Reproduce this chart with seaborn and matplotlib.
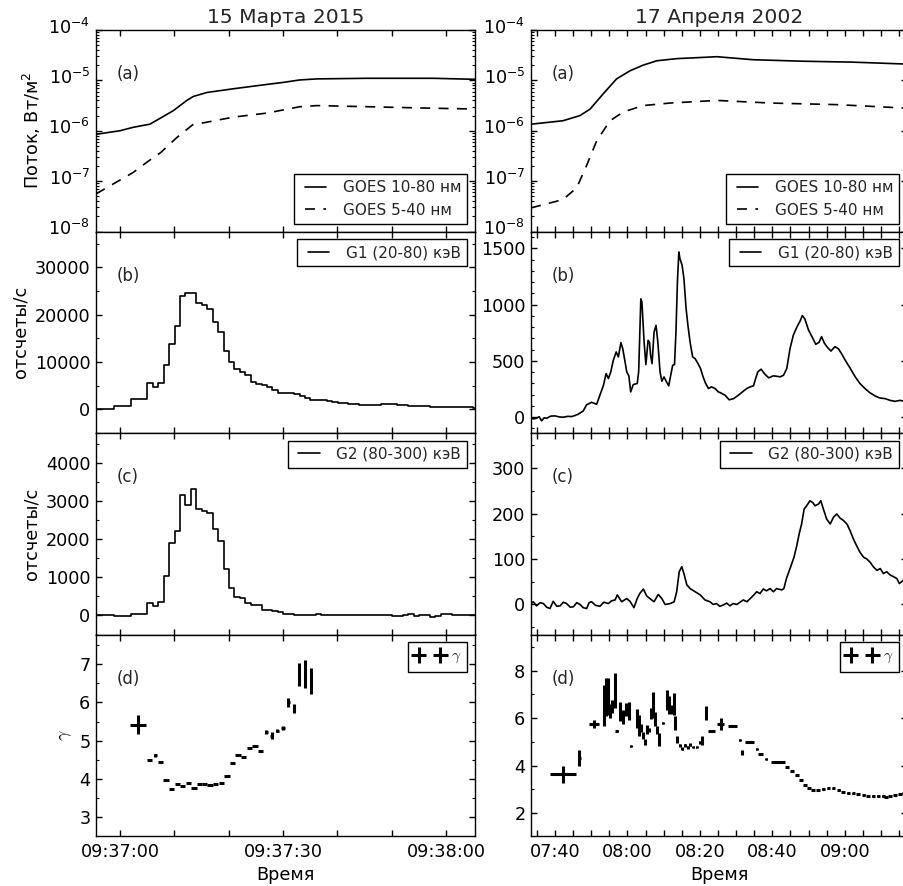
import matplotlib
matplotlib.use("Agg")
import matplotlib.pyplot as plt
import matplotlib.transforms as mtransforms
import seaborn as sns
import pandas as pd
from matplotlib.ticker import MultipleLocator, FuncFormatter, LogLocator

# ------------------------------------------------------------------ data
titles = ["15 Марта 2015", "17 Апреля 2002"]
goes_labels = ["GOES 10-80 нм", "GOES 5-40 нм"]
g1_label = "G1 (20-80) кэВ"
g2_label = "G2 (80-300) кэВ"
panel_tags = ["(a)", "(b)", "(c)", "(d)"]

# left column: seconds after 09:37:00
L_xticks = [0, 30, 60]
L_xticklabels = ["09:37:00", "09:37:30", "09:38:00"]
# right column: minutes after 07:40
R_xticks = [0, 20, 40, 60, 80]
R_xticklabels = ["07:40", "08:00", "08:20", "08:40", "09:00"]

L_goes_long_t = [-4.4, -2, 0, 2.4, 5.5, 9.8, 12.3, 13.5, 16, 20.8, 27, 30, 33.1, 36.3, 45.5, 57.6, 65.3]
L_goes_long = [8.5e-7, 9.3e-7, 1.0e-6, 1.17e-6, 1.35e-6, 2.5e-6, 4.0e-6, 4.8e-6, 5.75e-6, 6.8e-6,
               8.3e-6, 9.1e-6, 1.02e-5, 1.07e-5, 1.10e-5, 1.10e-5, 1.05e-5]
L_goes_short_t = [-4.4, 0, 2.4, 5, 7.5, 10.5, 13.4, 16, 20.8, 27, 33.1, 36.3, 45.5, 57.6, 65.3]
L_goes_short = [5.6e-8, 1.05e-7, 1.48e-7, 2.4e-7, 3.7e-7, 7.4e-7, 1.32e-6, 1.48e-6, 1.86e-6,
                2.24e-6, 3.0e-6, 3.16e-6, 3.0e-6, 2.8e-6, 2.7e-6]

R_goes_long_t = [-6.6, 2.2, 6.9, 9.7, 13.3, 17, 20.7, 24.3, 28.1, 33.6, 44.7, 54.7, 68.5, 82.3, 97.5]
R_goes_long = [1.35e-6, 1.58e-6, 2.0e-6, 2.7e-6, 5.4e-6, 1.07e-5, 1.55e-5, 2.0e-5, 2.45e-5, 2.7e-5,
               2.95e-5, 2.57e-5, 2.4e-5, 2.3e-5, 2.1e-5]
R_goes_short_t = [-6.6, 2.2, 6, 8.8, 11.5, 15.2, 18.8, 24.3, 31.8, 44.7, 59.4, 77.8, 97.5]
R_goes_short = [2.95e-8, 4.3e-8, 7.4e-8, 2.1e-7, 6.3e-7, 1.58e-6, 2.35e-6, 3.16e-6, 3.55e-6,
                4.0e-6, 3.55e-6, 3.3e-6, 2.8e-6]

# left column count-rate bins (start times, s)
L_bin_start = [-7.2, -1.1, 1.95] + [5.05 + k for k in range(61)]
L_g1 = [150, 630, 2100,
        5500, 4800, 5500, 9400, 13900, 17700, 24000, 24600, 24700, 22500,
        22000, 21200, 18500, 16300, 12300, 10100, 8500, 8000, 7300, 5800,
        5350, 5100, 4650, 4100, 3500, 3400, 3450, 3300, 2800, 2400,
        2050, 1900, 1900, 1830, 1600, 1400, 1270, 1200, 1130, 1000,
        900, 900, 900, 1130, 1130, 1050, 900, 850, 800, 700,
        650, 630, 600, 550, 500, 480, 450, 420, 400, 400, 380]
L_g2 = [5, -5, 45,
        340, 260, 360, 1030, 1900, 2210, 3175, 2910, 3330, 2790,
        2740, 2680, 2260, 1960, 1220, 710, 480, 465, 340, 265,
        270, 150, 140, 115, 80, 45, 50, 20, 20, 20,
        20, 45, 5, 0, 10, 0, 20, 20, 20, 0,
        5, 10, 10, 0, 0, -5, -5, 0, 45, -15,
        0, 0, -45, -10, 35, 30, 20, 20, 15, 10, 0]

R_g1_t = [-6.9, -6.0, -5.1, -4.4, -3.7, -3.0, -2.3, -1.2, 0, 1.1, 2.3, 3.5, 4.6, 5.5, 6.4, 7.8, 8.7,
          10.1, 11.5, 12.4, 13.4, 14.1, 14.75, 15.4, 16.1, 16.9, 17.5, 18.2, 18.7, 19.3, 19.8,
          20.4, 20.9, 21.6, 22.7, 23.1, 23.7, 24.0, 24.6, 25.1, 25.7, 26.1, 26.4, 26.8, 27.35,
          27.9, 28.4, 29.0, 29.5, 30.1, 30.8, 31.4, 31.95, 32.5, 33.0, 33.4, 33.8, 34.2, 34.5,
          35.1, 35.6, 36.2, 36.7, 37.3, 38.0, 38.7, 39.5, 40.2, 40.9, 41.6, 42.4, 43.2, 44.2,
          45.1, 45.6, 46.98, 48.1, 49.3, 50.6, 52.0, 52.95, 53.9, 54.8, 55.4, 56.0, 56.9, 57.8,
          59.0, 60.3, 62.2, 63.1, 64.0, 64.9, 65.8, 66.8, 67.7, 68.3, 69.0, 70.0, 71.1, 72.0,
          72.9, 73.6, 74.4, 75.3, 76.2, 77.3, 78.3, 79.2, 80.1, 81.4, 82.9, 84.2, 85.6, 86.9,
          88.4, 89.7, 91.2, 92.5, 93.9, 95.3, 96.4, 97.5]
R_g1 = [0, -15, -9, 5, -32, -5, -9, 10, 12, 3, 0, 8, 6, 15, 27, 56, 110,
        133, 115, 197, 285, 388, 344, 403, 506, 580, 536, 663, 610, 500, 403,
        367, 225, 290, 300, 403, 1052, 1022, 667, 468, 683, 667, 550, 476, 757,
        816, 667, 403, 320, 358, 314, 279, 373, 462, 468, 757, 1201, 1468, 1409,
        1350, 1231, 965, 816, 667, 536, 520, 476, 432, 358, 300, 255, 270, 255,
        225, 219, 195, 155, 165, 195, 231, 255, 270, 279, 343, 403, 427, 388,
        350, 368, 359, 373, 432, 610, 728, 802, 856, 903, 873, 775, 707, 648,
        665, 716, 657, 618, 588, 627, 607, 560, 509, 441, 359, 300, 255, 219,
        189, 171, 165, 150, 141, 150, 141, 145]

R_g2_t = [-6.9, -6.0, -5.1, -4.1, -3.2, -2.3, -1.4, -0.5, 0.5, 1.4, 2.3, 3.2, 4.2, 5.1, 6.0, 6.9,
          7.8, 8.75, 9.4, 10.1, 11.2, 12.4, 13.5, 14.75, 15.6, 16.6, 17.2, 18.4, 19.8, 20.7,
          21.8, 22.7, 23.4, 24.4, 25.3, 26.2, 27.35, 28.5, 29.5, 30.4, 31.8, 32.9, 33.6, 34.3,
          35.0, 35.6, 36.4, 37.3, 38.7, 40.1, 41.4, 42.8, 43.7, 44.6, 45.5, 46.5, 47.4, 48.3,
          49.2, 50.2, 51.1, 52.0, 53.0, 53.9, 54.8, 55.7, 56.6, 57.5, 58.4, 59.4, 60.3, 61.2,
          62.6, 63.2, 63.9, 64.9, 66.0, 66.75, 67.5, 68.1, 68.8, 69.5, 70.4, 71.2, 71.8, 72.8,
          73.4, 74.1, 75.0, 76.0, 76.9, 77.8, 78.7, 79.6, 80.6, 81.5, 82.4, 83.3, 84.2, 85.2,
          86.1, 87.0, 87.9, 88.9, 89.8, 90.7, 91.6, 92.5, 93.5, 94.4, 95.1, 95.7, 96.4, 97.5]
R_g2 = [0, 6, -3, 4, 2, -6, -9, 7, -4, -3, 5, 2, -6, -5, 4, 0,
        -7, -9, 4, 6, -2, -4, 5, 2, 8, 10, 21, 6, 13, 7,
        -7, 13, 24, 34, 19, 13, 6, 22, 13, 0, 2, 6, 28, 72,
        83, 68, 43, 35, 28, 21, 10, 6, 0, 2, -4, -1, 3, -3,
        2, 0, 5, 10, 6, 13, 20, 28, 24, 34, 30, 35, 28, 35,
        32, 35, 57, 79, 104, 129, 158, 177, 210, 217, 228, 224, 217, 221,
        228, 210, 188, 177, 192, 199, 190, 185, 177, 162, 144, 129, 115, 104,
        100, 93, 83, 75, 79, 68, 72, 65, 61, 57, 46, 50, 54, 56]

# spectral index gamma: time, value, time half-width, value error
L_gam_t = [3.37, 5.46, 6.5, 7.5, 8.47, 9.5, 10.55, 11.5, 12.6, 13.6, 14.6, 15.6, 16.6, 17.6, 18.65,
           19.7, 20.7, 21.7, 22.76, 23.8, 24.85, 25.9, 26.9, 27.9, 28.96, 30.0, 31.0, 32.0, 33.0,
           34.05, 35.1]
L_gam = [5.42, 4.48, 4.61, 4.43, 3.96, 3.74, 3.85, 3.8, 3.9, 3.77, 3.85, 3.85, 3.83, 3.86, 3.89,
         4.06, 4.41, 4.61, 4.57, 4.8, 4.87, 4.72, 5.22, 5.13, 5.26, 5.33, 6.0, 5.83, 6.74,
         6.74, 6.57]
L_gam_xerr = [1.5, 0.5, 0.25, 0.5, 0.5, 0.5, 0.5, 0.5, 0.5, 0.5, 0.5, 0.5, 0.5, 0.5, 0.5,
              0.5, 0.5, 0.5, 0.5, 0.5, 0.5, 0.5, 0.3, 0.3, 0.3, 0.3, 0.2, 0.2, 0.2,
              0.2, 0.2]
L_gam_yerr = [0.24, 0.02, 0.05, 0.02, 0.02, 0.02, 0.02, 0.02, 0.02, 0.02, 0.02, 0.02, 0.02, 0.02, 0.02,
              0.02, 0.02, 0.02, 0.02, 0.02, 0.02, 0.02, 0.05, 0.1, 0.04, 0.05, 0.12, 0.12, 0.3,
              0.36, 0.34]

R_gam_t = [2.3, 6.7, 10.8, 13.5, 14.1, 14.6, 15.2, 15.7, 16.5, 17.0, 18.0, 18.7, 19.6, 20.3, 20.9,
           22.55, 23.1, 23.7, 24.2, 24.8, 25.3, 25.9, 26.4, 27.0, 27.5, 28.1, 28.6, 29.7, 30.8,
           31.6, 32.2, 32.8, 33.2, 33.8, 34.5, 35.2, 35.9, 36.7, 37.4, 38.2, 39.1, 40.0, 40.5,
           41.7, 43.2, 45.7, 49.1, 51.0, 51.7, 53.7, 55.7, 56.8, 58.4, 61.6,
           64.0, 65.4, 66.75, 67.9, 69.0, 70.2, 71.3, 72.7, 74.1, 75.5, 76.9, 78.3, 79.6, 81.0,
           82.4, 83.7, 85.2, 86.5, 87.9, 89.3, 90.7, 91.4, 92.5, 93.9, 95.3, 96.2]
R_gam = [3.63, 4.33, 5.75, 6.54, 6.89, 6.91, 6.3, 6.5, 7.17, 5.45, 6.28, 6.05, 6.35, 6.32, 4.84,
         6.0, 5.7, 5.57, 5.27, 4.99, 5.52, 5.5, 6.19, 6.56, 5.96, 5.49, 5.11, 5.8, 6.77,
         6.54, 6.36, 6.6, 5.8, 5.1, 4.85, 4.72, 4.85, 4.78, 4.88, 4.8, 4.8, 4.98, 5.05,
         6.22, 5.45, 5.77, 5.67, 5.07, 4.55, 5.0, 4.72, 4.5, 4.27, 4.15,
         3.94, 3.76, 3.6, 3.39, 3.2, 3.04, 2.96, 2.96, 3.0, 3.04, 3.04, 2.98, 2.91, 2.86,
         2.83, 2.8, 2.76, 2.74, 2.74, 2.72, 2.71, 2.67, 2.74, 2.76, 2.8, 2.83]
R_gam_xerr = [3.6, 0.4, 1.3, 0.15, 0.15, 0.15, 0.15, 0.15, 0.15, 0.5, 0.15, 0.15, 0.15, 0.15, 0.15,
              0.15, 0.15, 0.15, 0.15, 0.15, 0.15, 0.15, 0.15, 0.15, 0.15, 0.15, 0.15, 0.15, 0.15,
              0.15, 0.15, 0.15, 0.15, 0.15, 0.15, 0.15, 0.15, 0.15, 0.15, 0.15, 0.15, 0.15, 0.15,
              0.15, 0.9, 0.9, 1.2, 0.2, 0.15, 1.2, 0.2, 0.7, 0.2, 1.84,
              0.5, 0.5, 0.5, 0.5, 0.5, 0.5, 0.5, 0.5, 0.5, 0.5, 0.5, 0.5, 0.5, 0.5,
              0.5, 0.5, 0.5, 0.5, 0.5, 0.5, 0.5, 0.5, 0.5, 0.5, 0.5, 0.5]
R_gam_yerr = [0.35, 0.35, 0.17, 0.87, 0.8, 0.77, 0.3, 0.28, 0.75, 0.05, 0.42, 0.31, 0.28, 0.38, 0.05,
              0.4, 0.45, 0.17, 0.15, 0.13, 0.2, 0.1, 0.24, 0.56, 0.3, 0.17, 0.28, 0.05, 0.42,
              0.38, 0.2, 0.45, 0.3, 0.14, 0.07, 0.07, 0.07, 0.06, 0.07, 0.04, 0.04, 0.07, 0.19,
              0.28, 0.05, 0.25, 0.05, 0.05, 0.09, 0.03, 0.04, 0.03, 0.05, 0.03,
              0.04, 0.04, 0.04, 0.04, 0.04, 0.04, 0.04, 0.04, 0.04, 0.04, 0.04, 0.04, 0.04, 0.04,
              0.04, 0.04, 0.04, 0.04, 0.04, 0.04, 0.04, 0.04, 0.04, 0.04, 0.04, 0.04]

# ------------------------------------------------------------------ style
sns.set_style("ticks")
plt.rcParams.update({
    "font.family": ["DejaVu Sans"],
    "mathtext.fontset": "dejavusans",
    "axes.unicode_minus": False,
    "xtick.direction": "in", "ytick.direction": "in",
    "xtick.top": True, "ytick.right": True,
    "xtick.major.size": 4.2, "ytick.major.size": 4.2,
    "xtick.minor.size": 2.2, "ytick.minor.size": 2.2,
    "xtick.major.width": 1.0, "ytick.major.width": 1.0,
    "xtick.minor.width": 0.8, "ytick.minor.width": 0.8,
    "xtick.major.pad": 5, "ytick.major.pad": 4,
    "xtick.color": "black", "ytick.color": "black",
    "axes.edgecolor": "black", "axes.linewidth": 1.0,
    "xtick.labelsize": 12.7, "ytick.labelsize": 12.7,
    "axes.labelsize": 12.7, "axes.labelcolor": "black",
    "legend.numpoints": 2, "legend.fancybox": False,
    "legend.edgecolor": "black", "legend.framealpha": 1.0,
    "legend.fontsize": 11, "legend.borderaxespad": 0.5,
    "legend.handlelength": 2.0, "legend.handletextpad": 0.8,
})

fig = plt.figure(figsize=(9.04, 8.86), dpi=100)
W, H = 904.0, 886.0
cols = [(96, 379), (531, 376)]
rows = [30, 231.5, 433, 634.5, 836]
axes = [[None] * 4 for _ in range(2)]
for c in range(2):
    x0, w = cols[c]
    for r in range(4):
        top, bot = rows[r], rows[r + 1]
        axes[c][r] = fig.add_axes([x0 / W, 1 - bot / H, w / W, (bot - top) / H])

xlims = [(-4.42, 65.34), (-6.63, 97.2)]
xtick_lists = [(L_xticks, L_xticklabels, 10), (R_xticks, R_xticklabels, 5)]

LW = 1.2


def line(ax, x, y, label, ls="-", drawstyle="default"):
    df = pd.DataFrame({"x": x, "y": y})
    sns.lineplot(data=df, x="x", y="y", ax=ax, color="black", linewidth=LW,
                 estimator=None, errorbar=None, sort=False, label=label,
                 linestyle=ls, drawstyle=drawstyle)


def steps(starts, vals):
    xs = list(starts) + [starts[-1] + 1.0]
    ys = list(vals) + [vals[-1]]
    return xs, ys


# ---- row a
for c, (tl, yl, ts, ys) in enumerate([(L_goes_long_t, L_goes_long, L_goes_short_t, L_goes_short),
                                      (R_goes_long_t, R_goes_long, R_goes_short_t, R_goes_short)]):
    ax = axes[c][0]
    ax.set_yscale("log")
    line(ax, tl, yl, goes_labels[0])
    line(ax, ts, ys, goes_labels[1], ls=(0, (6, 5)))
    ax.set_ylim(1e-8, 1e-4)
    ax.yaxis.set_major_locator(LogLocator(base=10, numticks=10))
    ax.yaxis.set_minor_locator(LogLocator(base=10, subs=range(2, 10), numticks=20))
    ax.legend(loc="lower right")
    ax.set_title(titles[c], fontsize=14.6, pad=5)

# ---- row b / c
sx, sy = steps(L_bin_start, L_g1)
line(axes[0][1], sx, sy, g1_label, drawstyle="steps-post")
sx, sy = steps(L_bin_start, L_g2)
line(axes[0][2], sx, sy, g2_label, drawstyle="steps-post")
line(axes[1][1], R_g1_t, R_g1, g1_label)
line(axes[1][2], R_g2_t, R_g2, g2_label)

ylims_b = [(-5000, 37600), (-140, 1650)]
ylims_c = [(-500, 4790), (-66, 377)]
loc_b = [(10000, 5000), (500, 100)]
loc_c = [(1000, 500), (100, 50)]
for c in range(2):
    ax = axes[c][1]
    ax.set_ylim(*ylims_b[c])
    ax.yaxis.set_major_locator(MultipleLocator(loc_b[c][0]))
    ax.yaxis.set_minor_locator(MultipleLocator(loc_b[c][1]))
    ax.legend(loc="upper right")
    ax = axes[c][2]
    ax.set_ylim(*ylims_c[c])
    ax.yaxis.set_major_locator(MultipleLocator(loc_c[c][0]))
    ax.yaxis.set_minor_locator(MultipleLocator(loc_c[c][1]))
    ax.legend(loc="upper right")

# ---- row d
gam_sets = [(L_gam_t, L_gam, L_gam_xerr, L_gam_yerr), (R_gam_t, R_gam, R_gam_xerr, R_gam_yerr)]
ylims_d = [(2.5, 7.78), (1.04, 9.52)]
loc_d = [(1, 0.5), (2, 1)]
for c in range(2):
    ax = axes[c][3]
    t, g, xe, ye = gam_sets[c]
    ax.errorbar(t, g, xerr=xe, yerr=ye, fmt="none", ecolor="black",
                elinewidth=2.2, capsize=0, label=r"$\gamma$")
    ax.set_ylim(*ylims_d[c])
    ax.yaxis.set_major_locator(MultipleLocator(loc_d[c][0]))
    ax.yaxis.set_minor_locator(MultipleLocator(loc_d[c][1]))
    leg = ax.legend(loc="upper right", handletextpad=0.4)
    for txt in leg.get_texts():
        txt.set_math_fontfamily("cm")
    ax.set_xlabel("Время")

# ---- common axis formatting
for c in range(2):
    ticks, labels, step = xtick_lists[c]
    lab_map = dict(zip(ticks, labels))
    fmt = FuncFormatter(lambda v, p, m=lab_map: m.get(int(round(v)), "") if abs(v - round(v)) < 1e-6 else "")
    for r in range(4):
        ax = axes[c][r]
        ax.set_xlim(*xlims[c])
        ax.xaxis.set_major_locator(MultipleLocator(step))
        ax.xaxis.set_major_formatter(fmt)
        ax.tick_params(which="both", top=True, right=True, direction="in")
        if r < 3:
            ax.tick_params(labelbottom=False)
            ax.set_xlabel("")
        ax.set_ylabel("")
        ax.text(0.055, 0.78, panel_tags[r], transform=ax.transAxes, fontsize=12,
                va="center", ha="left")
        for s in ax.spines.values():
            s.set_visible(True)
            s.set_linewidth(1.0)

axes[0][0].set_ylabel("Поток, Вт/м$^2$")
axes[0][1].set_ylabel("отсчеты/с")
axes[0][2].set_ylabel("отсчеты/с")
axes[0][3].set_ylabel(r"$\gamma$", math_fontfamily="cm")

# lift the log-scale tick labels slightly (as in the reference)
fig.canvas.draw()
lift = mtransforms.ScaledTranslation(0, 4.5 / 100, fig.dpi_scale_trans)
for c in range(2):
    for tick in axes[c][0].yaxis.get_major_ticks():
        tick.label1.set_transform(tick.label1.get_transform() + lift)

fig.savefig("out.png", dpi=100)
